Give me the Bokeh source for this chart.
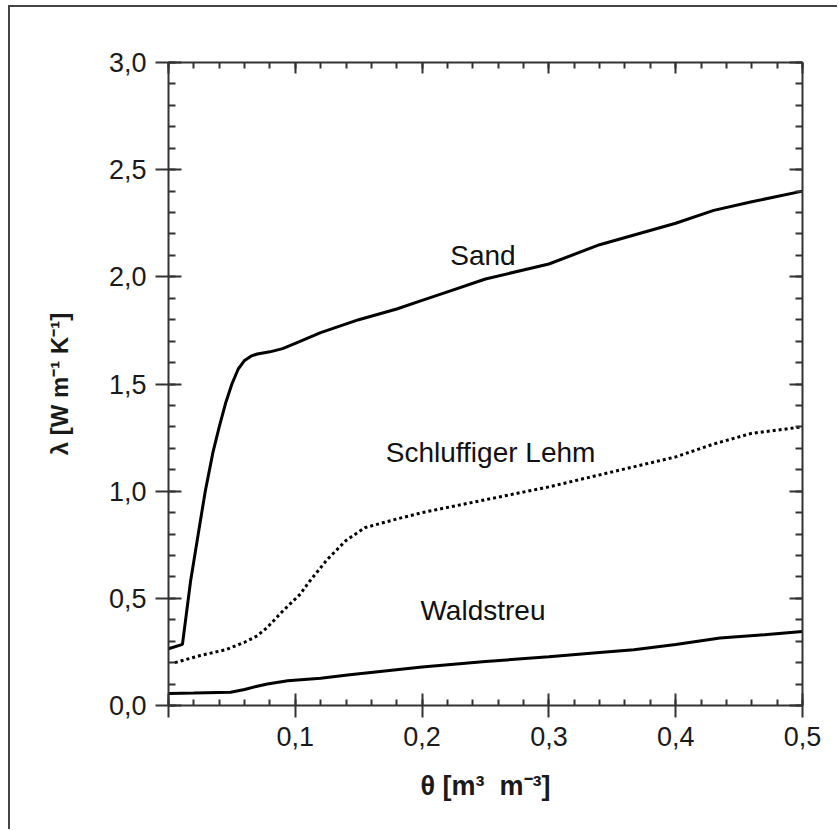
from bokeh.plotting import figure
from bokeh.models import (LinearAxis, FixedTicker, CustomJSTickFormatter, Range1d,
                          ColumnDataSource)
from bokeh.embed import file_html
from bokeh.resources import INLINE
from bokeh.core.properties import value

# ---------------- data ----------------
sand_x = [0.0, 0.011, 0.0174, 0.024, 0.029, 0.035, 0.04, 0.045, 0.05, 0.055, 0.06, 0.065,
          0.07, 0.08, 0.09, 0.1, 0.12, 0.15, 0.18, 0.2, 0.22, 0.25, 0.3, 0.34, 0.37, 0.4,
          0.43, 0.46, 0.5]
sand_y = [0.265, 0.285, 0.58, 0.82, 1.0, 1.18, 1.30, 1.41, 1.50, 1.57, 1.61, 1.63,
          1.64, 1.65, 1.665, 1.69, 1.74, 1.80, 1.85, 1.89, 1.93, 1.99, 2.06, 2.15, 2.20, 2.25,
          2.31, 2.35, 2.40]

lehm_x = [0.005, 0.025, 0.045, 0.06, 0.07, 0.078, 0.09, 0.104, 0.11, 0.125, 0.14, 0.155,
          0.18, 0.2, 0.25, 0.3, 0.35, 0.4, 0.43, 0.46, 0.5]
lehm_y = [0.20, 0.233, 0.26, 0.295, 0.325, 0.365, 0.44, 0.52, 0.57, 0.68, 0.77, 0.83,
          0.87, 0.90, 0.96, 1.02, 1.09, 1.16, 1.22, 1.27, 1.30]

wald_x = [0.0, 0.02, 0.049, 0.06, 0.07, 0.078, 0.094, 0.12, 0.143, 0.2, 0.25, 0.3,
          0.34, 0.367, 0.4, 0.435, 0.47, 0.5]
wald_y = [0.056, 0.058, 0.062, 0.075, 0.09, 0.10, 0.115, 0.127, 0.143, 0.18, 0.205, 0.228,
          0.247, 0.26, 0.285, 0.315, 0.33, 0.345]

label_text = ["Sand", "Schluffiger Lehm", "Waldstreu"]
label_x = [0.248, 0.254, 0.248]
label_y = [2.10, 1.18, 0.443]

x_ticks = [0.0, 0.1, 0.2, 0.3, 0.4, 0.5]
x_minor = [round(i * 0.02, 2) for i in range(26)]
y_ticks = [0.0, 0.5, 1.0, 1.5, 2.0, 2.5, 3.0]
y_minor = [round(i * 0.1, 1) for i in range(31)]

x_title = "θ [m³\u00a0\u00a0m⁻³]"
y_title = "λ [W m⁻¹ K⁻¹]"

# ---------------- figure ----------------
FONT = "Liberation Sans"
AXC = "#333333"
OFF_X, OFF_Y = 10, 7   # canvas offset caused by page-frame margin + border

p = figure(width=839 - OFF_X, height=831 - OFF_Y, output_backend="svg",
           toolbar_location=None,
           x_range=Range1d(0, 0.5), y_range=Range1d(0, 3.0),
           x_axis_location=None, y_axis_location=None)
p.margin = (OFF_Y - 2, 0, 0, OFF_X - 2)
p.styles = {"border-left": "2px solid #444444", "border-top": "2px solid #444444"}
p.min_border_left = 168 - OFF_X
p.min_border_right = 37
p.min_border_top = 62 - OFF_Y
p.min_border_bottom = 126
p.outline_line_color = None
p.grid.visible = False
p.background_fill_color = "white"
p.border_fill_color = "white"

fmt_y = CustomJSTickFormatter(code="return tick.toFixed(1).replace('.', ',');")
fmt_x = CustomJSTickFormatter(code="return Math.abs(tick) < 1e-9 ? '' : tick.toFixed(1).replace('.', ',');")
fmt_none = CustomJSTickFormatter(code="return '';")


def style(ax, tin, tout, minin, fmt, label_size="27px"):
    ax.axis_line_color = AXC
    ax.axis_line_width = 2
    ax.major_tick_line_color = AXC
    ax.major_tick_line_width = 2
    ax.minor_tick_line_color = AXC
    ax.minor_tick_line_width = 2
    ax.major_tick_in = tin
    ax.major_tick_out = tout
    ax.minor_tick_in = minin
    ax.minor_tick_out = 0
    ax.formatter = fmt
    ax.major_label_text_font = FONT
    ax.major_label_text_font_size = label_size
    ax.major_label_text_color = "#1a1a1a"


bottom = LinearAxis(ticker=FixedTicker(ticks=x_ticks, minor_ticks=x_minor))
style(bottom, 12, 12, 6, fmt_x)
bottom.major_label_standoff = 9
bottom.axis_label = x_title
bottom.axis_label_text_font = FONT
bottom.axis_label_text_font_style = "bold"
bottom.axis_label_text_font_size = "27px"
bottom.axis_label_text_color = "#1a1a1a"
bottom.axis_label_standoff = 22
p.add_layout(bottom, "below")

left = LinearAxis(ticker=FixedTicker(ticks=y_ticks, minor_ticks=y_minor))
style(left, 13, 13, 7, fmt_y)
left.major_label_standoff = 9
left.axis_label = y_title
left.axis_label_text_font = FONT
left.axis_label_text_font_style = "bold"
left.axis_label_text_font_size = "24px"
left.axis_label_text_color = "#1a1a1a"
left.axis_label_standoff = 33
p.add_layout(left, "left")

top = LinearAxis(ticker=FixedTicker(ticks=x_ticks, minor_ticks=x_minor))
style(top, 11, 0, 6, fmt_none, "1px")
top.major_label_standoff = 0
p.add_layout(top, "above")

right = LinearAxis(ticker=FixedTicker(ticks=y_ticks, minor_ticks=y_minor))
style(right, 13, 0, 7, fmt_none, "1px")
right.major_label_standoff = 0
p.add_layout(right, "right")

# ---------------- curves ----------------
p.line(sand_x, sand_y, line_color="black", line_width=3)
p.line(lehm_x, lehm_y, line_color="black", line_width=3, line_dash="3 3")
p.line(wald_x, wald_y, line_color="black", line_width=3)

src = ColumnDataSource(dict(x=label_x, y=label_y, t=label_text))
p.text(x="x", y="y", text="t", source=src, text_font=value(FONT),
       text_font_size="28px", text_align="center", text_baseline="middle",
       text_color="#111111")

open("out.html", "w").write(file_html(p, INLINE))
